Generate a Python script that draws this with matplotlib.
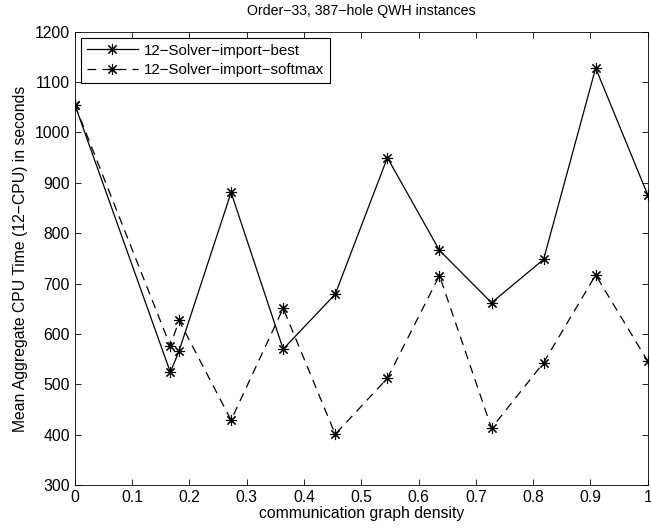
import matplotlib
matplotlib.use("Agg")
import matplotlib.pyplot as plt

# communication graph density values and mean CPU times
density = [0, 0.1667, 0.1818, 0.2727, 0.3636, 0.4545, 0.5455, 0.6364, 0.7273, 0.8182, 0.9091, 1.0]
best = [1055, 524, 566, 881, 570, 679, 950, 766, 662, 748, 1128, 876]
softmax = [1055, 576, 627, 429, 651, 401, 512, 716, 413, 543, 717, 546]

x_ticks = [0, 0.1, 0.2, 0.3, 0.4, 0.5, 0.6, 0.7, 0.8, 0.9, 1]
y_ticks = [300, 400, 500, 600, 700, 800, 900, 1000, 1100, 1200]

plt.rcParams['font.family'] = ['Liberation Sans', 'DejaVu Sans']
plt.rcParams['font.size'] = 11.3

fig = plt.figure(figsize=(6.51, 5.29), dpi=100)
ax = fig.add_axes([0.115, 0.083, 0.88, 0.857])

# MATLAB style asterisk marker: 8 arms
star = (8, 2, 0)
ax.plot(density, best, '-', color='black', lw=0.9, marker=star, ms=8, mew=0.8,
        label='12\u2212Solver\u2212import\u2212best')
ax.plot(density, softmax, '--', color='black', lw=0.9, marker=star, ms=8, mew=0.8,
        dashes=(7, 5), label='12\u2212Solver\u2212import\u2212softmax')

ax.set_xlim(0, 1)
ax.set_ylim(300, 1200)
ax.set_xticks(x_ticks)
ax.set_xticklabels([f'{t:g}' for t in x_ticks])
ax.set_yticks(y_ticks)
ax.tick_params(direction='in', top=True, right=True, length=4, width=0.6)
for s in ax.spines.values():
    s.set_linewidth(0.6)

ax.set_xlabel('communication graph density', labelpad=1)
ax.set_ylabel('Mean Aggregate CPU Time (12\u2212CPU) in seconds', labelpad=5)
ax.set_title('Order\u221233, 387\u2212hole QWH instances', fontsize=10.2, pad=12)

leg = ax.legend(loc='upper left', fancybox=False, edgecolor='black', framealpha=1,
                fontsize=10.8, handlelength=3.4, handletextpad=0.4, borderaxespad=0.4,
                borderpad=0.4, labelspacing=0.35)
leg.get_frame().set_linewidth(0.8)

fig.savefig('out.png', dpi=100)
